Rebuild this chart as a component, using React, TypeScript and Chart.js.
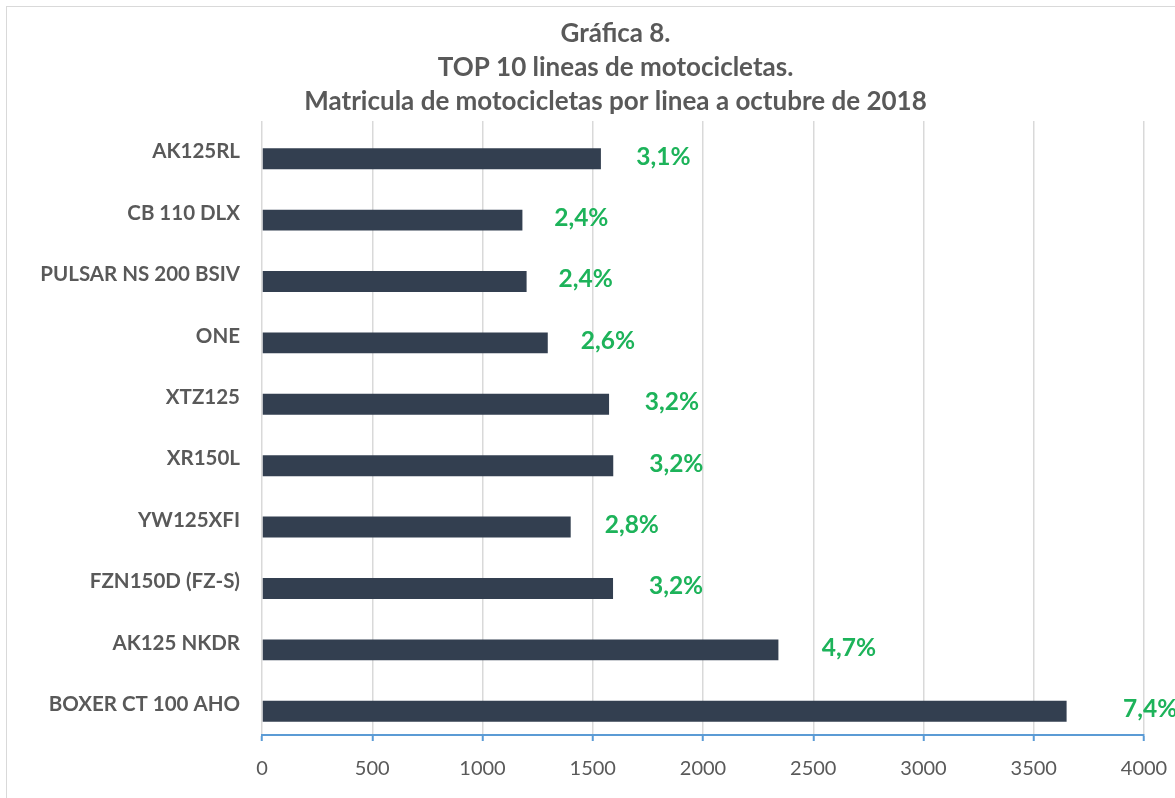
import React, { useEffect, useRef } from "react";
import { Chart, registerables } from "chart.js";

Chart.register(...registerables);

const categories = [
  "AK125RL",
  "CB 110 DLX",
  "PULSAR NS 200 BSIV",
  "ONE",
  "XTZ125",
  "XR150L",
  "YW125XFI",
  "FZN150D (FZ-S)",
  "AK125 NKDR",
  "BOXER CT 100 AHO",
];
const values = [1537, 1181, 1200, 1296, 1574, 1593, 1400, 1592, 2342, 3649];
const shareLabels = ["3,1%", "2,4%", "2,4%", "2,6%", "3,2%", "3,2%", "2,8%", "3,2%", "4,7%", "7,4%"];
const titleLines = [
  "Gráfica 8.",
  "TOP 10 lineas de motocicletas.",
  "Matricula de motocicletas por linea a octubre de 2018",
];
const xMin = 0;
const xMax = 4000;
const xStep = 500;

const FONT = "Lato, 'Open Sans', sans-serif";

const shareLabelPlugin = {
  id: "shareLabels",
  afterDatasetsDraw(chart: any) {
    const meta = chart.getDatasetMeta(1);
    const ctx = chart.ctx;
    ctx.save();
    ctx.fillStyle = "#1DB35A";
    ctx.font = `bold 24.5px ${FONT}`;
    ctx.textAlign = "left";
    ctx.textBaseline = "middle";
    meta.data.forEach((bar: any, i: number) => {
      const v = values[i];
      const gap = 20 + v * 0.01;
      ctx.fillText(shareLabels[i], bar.x + gap, bar.y - 2);
    });
    ctx.restore();
  },
};

export default function App() {
  const ref = useRef<HTMLCanvasElement | null>(null);

  useEffect(() => {
    if (!ref.current) return;
    const chart = new Chart(ref.current, {
      type: "bar",
      data: {
        labels: categories,
        datasets: [
          {
            // label-carrier series (invisible), as in the original workbook
            data: values,
            backgroundColor: "rgba(0,0,0,0)",
            borderWidth: 0,
            barPercentage: 1.5,
            categoryPercentage: 0.4545,
          },
          {
            data: values,
            backgroundColor: "#333F50",
            borderWidth: 0,
            barPercentage: 1.5,
            categoryPercentage: 0.4545,
          },
        ],
      },
      options: {
        indexAxis: "y",
        animation: false,
        responsive: false,
        maintainAspectRatio: false,
        layout: { padding: { left: 0, right: 0, top: 0, bottom: 10 } },
        plugins: {
          legend: { display: false },
          tooltip: { enabled: false },
          title: {
            display: true,
            text: titleLines,
            color: "#595959",
            font: { family: FONT, size: 26, weight: "bold", lineHeight: 1.308 },
            padding: { top: 10, bottom: 2 },
          },
        },
        scales: {
          x: {
            min: xMin,
            max: xMax,
            ticks: {
              stepSize: xStep,
              color: "#595959",
              font: { family: FONT, size: 20 },
              padding: 16,
              callback: (v: any) => String(v),
            },
            grid: {
              color: "#D9D9D9",
              lineWidth: 1.5,
              drawTicks: true,
              tickLength: 6,
              tickColor: "#5B9BD5",
              tickWidth: 2,
            },
            border: { display: true, color: "#5B9BD5", width: 2 },
          },
          y: {
            afterFit(scale: any) {
              scale.width = 255;
            },
            ticks: {
              color: "#595959",
              font: { family: FONT, size: 20.5, weight: "bold" },
              padding: 22,
            },
            grid: { display: false, drawTicks: false },
            border: { display: false },
          },
          yRight: {
            type: "linear",
            position: "right",
            display: true,
            afterFit(scale: any) {
              scale.width = 80;
            },
            ticks: { display: false },
            grid: { display: false, drawTicks: false },
            border: { display: false },
          },
        },
      },
      plugins: [shareLabelPlugin],
    } as any);
    return () => chart.destroy();
  }, []);

  return (
    <div
      style={{
        position: "fixed",
        left: 6,
        top: 6,
        width: 1217,
        height: 800,
        border: "1px solid #D9D9D9",
        background: "#fff",
      }}
    >
      <canvas ref={ref} width={1217} height={800} style={{ display: "block" }} />
    </div>
  );
}
